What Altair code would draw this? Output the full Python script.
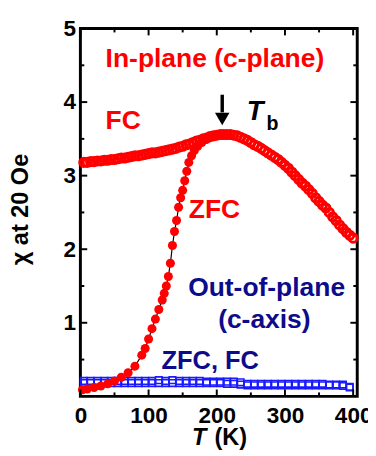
import altair as alt
import pandas as pd

# ---- data ----
T_fc = [5, 10, 15, 20, 25, 30, 35, 40, 45, 50, 55, 60, 65, 70, 75, 80, 85, 90, 95, 100,
        105, 110, 115, 120, 125, 130, 135, 140, 145, 150, 155, 160, 165, 170, 175, 180,
        185, 190, 195, 200, 205, 210, 215, 220, 225, 230, 235, 240, 245, 250, 255, 260,
        265, 270, 275, 280, 285, 290, 295, 300, 305, 310, 315, 320, 325, 330, 335, 340,
        345, 350, 355, 360, 365, 370, 375, 380, 385, 390, 395, 400]
chi_fc = [3.18, 3.18, 3.19, 3.19, 3.20, 3.20, 3.21, 3.21, 3.22, 3.22, 3.23, 3.24, 3.24,
          3.25, 3.26, 3.27, 3.27, 3.28, 3.29, 3.30, 3.31, 3.31, 3.32, 3.33, 3.34, 3.35,
          3.36, 3.37, 3.39, 3.40, 3.42, 3.43, 3.45, 3.47, 3.48, 3.50, 3.51, 3.53, 3.54,
          3.55, 3.56, 3.56, 3.56, 3.56, 3.55, 3.54, 3.52, 3.50, 3.48, 3.45, 3.42, 3.40,
          3.37, 3.34, 3.31, 3.28, 3.25, 3.22, 3.18, 3.14, 3.10, 3.05, 3.00, 2.95, 2.90,
          2.86, 2.81, 2.76, 2.70, 2.65, 2.60, 2.56, 2.50, 2.44, 2.39, 2.33, 2.28, 2.23,
          2.19, 2.15]

T_zfc = [3, 10, 20, 30, 40, 50, 60, 70, 80, 90, 95, 100, 105, 110, 115, 120, 123, 126,
         129, 132, 135, 138, 141, 144, 147, 150, 153, 156, 159, 163, 167, 172, 178, 184,
         190, 196, 202]
chi_zfc = [0.09, 0.10, 0.12, 0.14, 0.17, 0.21, 0.26, 0.32, 0.41, 0.56, 0.65, 0.78, 0.92,
           1.05, 1.18, 1.31, 1.40, 1.50, 1.63, 1.81, 2.05, 2.24, 2.39, 2.57, 2.70, 2.80,
           2.93, 3.06, 3.18, 3.27, 3.34, 3.40, 3.45, 3.49, 3.52, 3.54, 3.55]

T_oop = [5, 15, 25, 35, 45, 55, 65, 75, 85, 95, 105, 115, 125, 135, 145, 155, 165, 175,
         185, 195, 205, 215, 225, 235, 245, 255, 265, 275, 285, 295, 305, 315, 325, 335,
         345, 355, 365, 375, 385, 395]
chi_oop_zfc = [0.21, 0.21, 0.21, 0.21, 0.21, 0.21, 0.21, 0.21, 0.21, 0.21, 0.21, 0.22,
               0.21, 0.22, 0.21, 0.21, 0.21, 0.21, 0.20, 0.20, 0.20, 0.20, 0.20, 0.19,
               0.17, 0.17, 0.17, 0.17, 0.17, 0.17, 0.17, 0.17, 0.17, 0.17, 0.17, 0.17,
               0.16, 0.16, 0.16, 0.13]
chi_oop_fc = [0.18, 0.18, 0.18, 0.18, 0.18, 0.18, 0.18, 0.18, 0.18, 0.18, 0.18, 0.18,
              0.18, 0.18, 0.18, 0.18, 0.18, 0.18, 0.18, 0.18, 0.18, 0.17, 0.17, 0.16,
              0.15, 0.15, 0.15, 0.15, 0.15, 0.15, 0.15, 0.15, 0.15, 0.15, 0.15, 0.15,
              0.15, 0.15, 0.14, 0.12]

x_major = [0, 100, 200, 300, 400]
x_minor = [50, 150, 250, 350]
y_major = [1, 2, 3, 4]
y_minor = [0.5, 1.5, 2.5, 3.5, 4.5]
y_labels = [1, 2, 3, 4, 5]

# T_b arrow (data position)
arrow_T = [208]
arrow_top = [4.10]
arrow_shaft_end = [3.86]
arrow_head = [3.77]

RED = "#ff0000"
NAVY = "#0c0c8a"
BLUE = "#1a1aff"
FONT = "Liberation Sans"

W, H = 283, 376
xs = alt.Scale(domain=[0, 406], nice=False, zero=False)
ys = alt.Scale(domain=[0, 5], nice=False, zero=False)

fc = pd.DataFrame({"T": T_fc, "chi": chi_fc})
zfc = pd.DataFrame({"T": T_zfc, "chi": chi_zfc})
oop_z = pd.DataFrame({"T": T_oop, "chi": chi_oop_zfc})
oop_f = pd.DataFrame({"T": T_oop, "chi": chi_oop_fc})

axis_common = dict(ticks=False, domain=False, grid=False, labelFont=FONT,
                   labelFontSize=23, labelFontWeight="bold", labelColor="black",
                   title=None, labelFlush=False)
XAX = alt.Axis(values=x_major, labelPadding=9, **axis_common)
YAX = alt.Axis(values=y_labels, labelPadding=5, **axis_common)


def X(f="T"):
    return alt.X(f + ":Q", scale=xs, axis=XAX, title=None)


def Y(f="chi"):
    return alt.Y(f + ":Q", scale=ys, axis=YAX, title=None)


blue_z = alt.Chart(oop_z).mark_point(shape="square", filled=False, size=45,
                                     strokeWidth=1.6, color=BLUE, opacity=1).encode(x=X(), y=Y())
blue_f = alt.Chart(oop_f).mark_point(shape="square", filled=False, size=45,
                                     strokeWidth=1.6, color=BLUE, opacity=1).encode(x=X(), y=Y())
red_fc = alt.Chart(fc).mark_point(shape="circle", filled=False, size=70,
                                  strokeWidth=3, color=RED, opacity=1).encode(x=X(), y=Y())
zfc_line = alt.Chart(zfc).mark_line(color="black", strokeWidth=1.2).encode(x=X(), y=Y())
red_zfc = alt.Chart(zfc).mark_point(shape="circle", filled=True, size=85,
                                    color=RED, opacity=1).encode(x=X(), y=Y())


def label(text, t, c, color, size=26, style="normal", align="left", baseline="alphabetic"):
    d = pd.DataFrame({"T": [t], "chi": [c], "txt": [text]})
    return alt.Chart(d).mark_text(font=FONT, fontSize=size, fontWeight="bold",
                                  fontStyle=style, color=color, align=align,
                                  baseline=baseline).encode(x=X(), y=Y(), text="txt:N")


texts = [
    label("In-plane (c-plane)", 37, 4.48, RED, 27),
    label("FC", 37, 3.63, RED, 27),
    label("ZFC", 159, 2.42, RED, 27),
    label("T", 244, 3.76, "black", 28, style="italic"),
    label("b", 273, 3.62, "black", 20),
    label("Out-of-plane", 158, 1.37, NAVY, 27),
    label("(c-axis)", 202, 0.93, NAVY, 27),
    label("ZFC, FC", 119, 0.37, NAVY, 26),
]

arr = pd.DataFrame({"T": arrow_T, "chi": arrow_top, "chi2": arrow_shaft_end, "head": arrow_head})
arrow_shaft = alt.Chart(arr).mark_rule(color="black", strokeWidth=3.5).encode(
    x=X(), y=Y(), y2="chi2:Q")
arrow_tip = alt.Chart(arr).mark_point(shape="triangle-down", filled=True, size=220,
                                      color="black", opacity=1).encode(x=X(), y=Y("head"))


def tick_x(vals, length, top):
    d = pd.DataFrame({"T": vals})
    if top:
        yy, yy2 = alt.value(0), alt.value(length)
    else:
        yy, yy2 = alt.value(H), alt.value(H - length)
    return alt.Chart(d).mark_rule(color="black", strokeWidth=2).encode(x=X(), y=yy, y2=yy2)


def tick_y(vals, length, right):
    d = pd.DataFrame({"chi": vals})
    if right:
        xx, xx2 = alt.value(W), alt.value(W - length)
    else:
        xx, xx2 = alt.value(0), alt.value(length)
    return alt.Chart(d).mark_rule(color="black", strokeWidth=2).encode(y=Y(), x=xx, x2=xx2)


ticks = [tick_x(x_major, 7, False), tick_x(x_minor, 4, False),
         tick_x(x_major, 7, True), tick_x(x_minor, 4, True),
         tick_y(y_major, 7, False), tick_y(y_minor, 4, False),
         tick_y(y_major, 7, True), tick_y(y_minor, 4, True)]

title_df = pd.DataFrame({"a": [1]})
ytitle = alt.Chart(title_df).mark_text(text="\u03c7 at 20 Oe", font=FONT, fontSize=24,
                                       fontWeight="bold", angle=270, align="center",
                                       baseline="middle", color="black").encode(
    x=alt.value(-61), y=alt.value(185))
xtitle_T = alt.Chart(title_df).mark_text(text="T", font=FONT, fontSize=24, fontWeight="bold",
                                         fontStyle="italic", align="left",
                                         baseline="alphabetic", color="black").encode(
    x=alt.value(114), y=alt.value(426))
xtitle_K = alt.Chart(title_df).mark_text(text="(K)", font=FONT, fontSize=24, fontWeight="bold",
                                         align="left", baseline="alphabetic",
                                         color="black").encode(
    x=alt.value(137), y=alt.value(426))

chart = alt.layer(blue_z, blue_f, red_fc, zfc_line, red_zfc, *texts, arrow_shaft, arrow_tip,
                  *ticks, ytitle, xtitle_T, xtitle_K).properties(
    width=W, height=H,
    background="white",
    autosize=alt.AutoSizeParams(type="none"),
    padding={"left": 74, "top": 16, "right": 11, "bottom": 56},
).configure_view(stroke="black", strokeWidth=3)

chart.save("out.html", embed_options={"renderer": "svg", "actions": False})
